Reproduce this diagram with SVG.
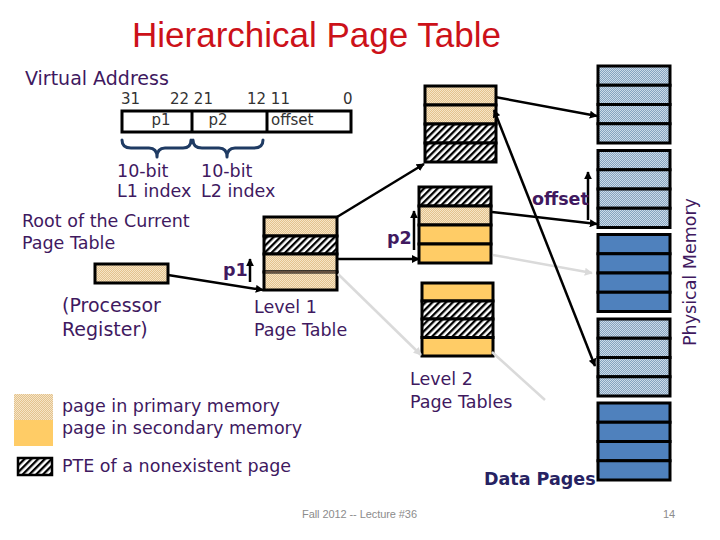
<svg xmlns="http://www.w3.org/2000/svg" width="720" height="540" viewBox="0 0 720 540">
<style>
.t{font-family:"DejaVu Sans",Verdana,sans-serif;fill:#40195F;font-size:17.5px}
.b{font-weight:bold}
.num{font-family:"DejaVu Sans",Verdana,sans-serif;fill:#333;font-size:15px}
.box{stroke:#000;stroke-width:3}
.ln{stroke:#000;stroke-width:2.5;fill:none}
.faint{stroke:#DADADA;stroke-width:2.5;fill:none}
.tan{fill:url(#tan)}
.hat{fill:url(#hatch)}
.org{fill:#FFCC66}
.dblue{fill:url(#dblue)}
.sblue{fill:#4F81BD}
</style>
<defs>
<pattern id="tan" width="2" height="2" patternUnits="userSpaceOnUse"><rect width="2" height="2" fill="#E3C28E"/><rect width="1" height="1" fill="#F6E5C6"/><rect x="1" y="1" width="1" height="1" fill="#F6E5C6"/></pattern>
<pattern id="dblue" width="2" height="2" patternUnits="userSpaceOnUse"><rect width="2" height="2" fill="#86A3BF"/><rect width="1" height="1" fill="#CCDBE8"/><rect x="1" y="1" width="1" height="1" fill="#CCDBE8"/></pattern>
<pattern id="hatch" width="4.8" height="4.8" patternUnits="userSpaceOnUse" patternTransform="rotate(45)"><rect width="4.8" height="4.8" fill="#fff"/><rect width="2.3" height="4.8" fill="#000"/></pattern>
<marker id="ah" viewBox="0 0 10 10" refX="9" refY="5" markerWidth="8" markerHeight="8" markerUnits="userSpaceOnUse" orient="auto"><path d="M0,0 L10,5 L0,10 z" fill="#000"/></marker>
<marker id="ahs" viewBox="0 0 10 10" refX="1" refY="5" markerWidth="8" markerHeight="8" markerUnits="userSpaceOnUse" orient="auto"><path d="M10,0 L0,5 L10,10 z" fill="#000"/></marker>
<marker id="ahf" viewBox="0 0 10 10" refX="9" refY="5" markerWidth="8" markerHeight="8" markerUnits="userSpaceOnUse" orient="auto"><path d="M0,0 L10,5 L0,10 z" fill="#DADADA"/></marker>
</defs>
<rect width="720" height="540" fill="#fff"/>

<text x="132" y="47" font-family="Liberation Sans,Arial,sans-serif" font-size="35" fill="#CC1119">Hierarchical Page Table</text>

<g id="virtual-address">
<text class="t" x="25" y="85" style="font-size:19px">Virtual Address</text>
<text class="num" x="121" y="104">31</text>
<text class="num" x="170" y="104">22 21</text>
<text class="num" x="247" y="104">12 11</text>
<text class="num" x="343" y="104">0</text>
<rect class="box" x="122" y="111" width="229" height="21" fill="#fff"/>
<line class="box" x1="192" y1="111" x2="192" y2="132"/>
<line class="box" x1="267" y1="111" x2="267" y2="132"/>
<text class="num" x="161" y="125" text-anchor="middle">p1</text>
<text class="num" x="218" y="125" text-anchor="middle">p2</text>
<text class="num" x="271" y="125">offset</text>
<path d="M122,140 Q122,148 131,148 L149,148 Q157,148 157,157 Q157,148 165,148 L183,148 Q191,148 191,140 M193,140 Q193,148 202,148 L219,148 Q227,148 227,157 Q227,148 235,148 L254,148 Q263,148 263,140" fill="none" stroke="#1F3B63" stroke-width="3" stroke-linecap="round" stroke-linejoin="round"/>
<text class="t" x="117" y="177">10-bit</text>
<text class="t" x="117" y="197">L1 index</text>
<text class="t" x="201" y="177">10-bit</text>
<text class="t" x="201" y="197">L2 index</text>
</g>

<g id="root-register">
<text class="t" x="22" y="227">Root of the Current</text>
<text class="t" x="22" y="249">Page Table</text>
<rect class="box tan" x="95" y="264" width="73" height="19"/>
<text class="t" x="62" y="312" style="font-size:19px">(Processor</text>
<text class="t" x="62" y="336" style="font-size:19px">Register)</text>
</g>

<g id="level1-table">
<rect class="box tan" x="264" y="217" width="73" height="19"/>
<rect class="box hat" x="264" y="236" width="73" height="18"/>
<rect class="box tan" x="264" y="254" width="73" height="18"/>
<rect class="tan" x="264" y="272" width="73" height="18" stroke="#000" stroke-width="3"/>
<line x1="265.5" y1="272" x2="335.5" y2="272" stroke="#C9A27E" stroke-width="1"/>
<text class="t" x="254" y="313">Level 1</text>
<text class="t" x="254" y="336">Page Table</text>
</g>

<g id="level2-table-a">
<rect class="box tan" x="425" y="86" width="71" height="19"/>
<rect class="box tan" x="425" y="105" width="71" height="19"/>
<rect class="box hat" x="425" y="124" width="71" height="19"/>
<rect class="box hat" x="425" y="143" width="71" height="19"/>
</g>
<g id="level2-table-b">
<rect class="box hat" x="419" y="187" width="72" height="19"/>
<rect class="box tan" x="419" y="206" width="72" height="19"/>
<rect class="box org" x="419" y="225" width="72" height="19"/>
<rect class="box org" x="419" y="244" width="72" height="19"/>
</g>
<g id="level2-table-c">
<rect class="box org" x="422" y="283" width="71" height="18"/>
<rect class="box hat" x="422" y="301" width="71" height="18"/>
<rect class="box hat" x="422" y="319" width="71" height="18.5"/>
<rect class="box org" x="422" y="337.5" width="71" height="18.5"/>
<text class="t" x="410" y="385">Level 2</text>
<text class="t" x="410" y="408">Page Tables</text>
</g>

<g id="physical-memory">
<g id="pm1">
<rect class="box dblue" x="598" y="66" width="72" height="19.25"/><rect class="box dblue" x="598" y="85.25" width="72" height="19.25"/><rect class="box dblue" x="598" y="104.5" width="72" height="19.25"/><rect class="box dblue" x="598" y="123.75" width="72" height="19.25"/>
</g>
<g id="pm2">
<rect class="box dblue" x="598" y="150.5" width="72" height="19.25"/><rect class="box dblue" x="598" y="169.75" width="72" height="19.25"/><rect class="box dblue" x="598" y="189" width="72" height="19.25"/><rect class="box dblue" x="598" y="208.25" width="72" height="19.25"/>
</g>
<g id="pm3">
<rect class="box sblue" x="598" y="234.5" width="72" height="19.25"/><rect class="box sblue" x="598" y="253.75" width="72" height="19.25"/><rect class="box sblue" x="598" y="273" width="72" height="19.25"/><rect class="box sblue" x="598" y="292.25" width="72" height="19.25"/>
</g>
<g id="pm4">
<rect class="box dblue" x="598" y="319" width="72" height="19.25"/><rect class="box dblue" x="598" y="338.25" width="72" height="19.25"/><rect class="box dblue" x="598" y="357.5" width="72" height="19.25"/><rect class="box dblue" x="598" y="376.75" width="72" height="19.25"/>
</g>
<g id="pm5">
<rect class="box sblue" x="598" y="403" width="72" height="19.25"/><rect class="box sblue" x="598" y="422.25" width="72" height="19.25"/><rect class="box sblue" x="598" y="441.5" width="72" height="19.25"/><rect class="box sblue" x="598" y="460.75" width="72" height="19.25"/>
</g>
<text class="t" transform="translate(696,272) rotate(-90)" text-anchor="middle">Physical Memory</text>
<text class="t b" x="484" y="485" style="fill:#262262">Data Pages</text>
</g>

<g id="connectors">
<line class="faint" x1="493" y1="255" x2="592" y2="273" marker-end="url(#ahf)"/>
<line class="faint" x1="338" y1="274" x2="421" y2="355" marker-end="url(#ahf)"/>
<line class="faint" x1="492" y1="352" x2="545" y2="400"/>
<line class="ln" x1="168" y1="275" x2="263" y2="290" marker-end="url(#ah)"/>
<line class="ln" x1="337" y1="217" x2="424" y2="164" marker-end="url(#ah)"/>
<line class="ln" x1="337" y1="259" x2="419" y2="259" marker-end="url(#ah)"/>
<line class="ln" x1="495" y1="97" x2="597" y2="116" marker-end="url(#ah)"/>
<line class="ln" x1="494" y1="110" x2="595" y2="366" marker-start="url(#ahs)" marker-end="url(#ah)"/>
<line class="ln" x1="492" y1="212" x2="597" y2="224" marker-end="url(#ah)"/>
<line class="ln" x1="250" y1="282" x2="250" y2="259" stroke-width="2" marker-end="url(#ah)"/>
<line class="ln" x1="414" y1="250" x2="414" y2="211" stroke-width="2" marker-end="url(#ah)"/>
<line class="ln" x1="588" y1="220" x2="588" y2="172" stroke-width="2" marker-end="url(#ah)"/>
<text class="t b" x="223" y="276">p1</text>
<text class="t b" x="387" y="244">p2</text>
<text class="t b" x="532" y="205">offset</text>
</g>

<g id="legend">
<rect class="tan" x="14" y="394" width="39" height="26"/>
<rect class="org" x="14" y="420" width="39" height="26"/>
<rect class="hat" x="18" y="458" width="34" height="17" stroke="#000" stroke-width="2.5"/>
<text class="t" x="62" y="412">page in primary memory</text>
<text class="t" x="62" y="434">page in secondary memory</text>
<text class="t" x="62" y="472">PTE of a nonexistent page</text>
</g>

<text x="302" y="518" font-family="Liberation Sans,Arial,sans-serif" font-size="11" fill="#8C8C8C" textLength="115">Fall 2012 -- Lecture #36</text>
<text x="663" y="518" font-family="Liberation Sans,Arial,sans-serif" font-size="11" fill="#8C8C8C">14</text>
</svg>
